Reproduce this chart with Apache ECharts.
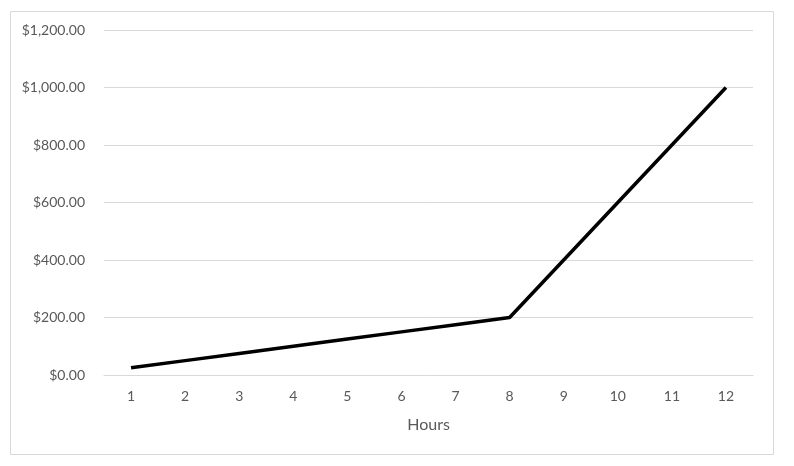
<!DOCTYPE html>
<html><head><meta charset="utf-8">
<script src="https://cdn.jsdelivr.net/npm/echarts@6/dist/echarts.min.js"></script>
<style>html,body{margin:0;padding:0;background:#fff}#c{width:794px;height:466px}</style>
</head><body><div id="c"></div>
<script>
const hours = ['1','2','3','4','5','6','7','8','9','10','11','12'];
const cost = [25,50,75,100,125,150,175,200,400,600,800,1000];
const xName = 'Hours';
const chart = echarts.init(document.getElementById('c'), null, {renderer:'canvas'});
const fmt = v => '$' + v.toLocaleString('en-US',{minimumFractionDigits:2,maximumFractionDigits:2});
chart.setOption({
  animation:false,
  backgroundColor:'#fff',
  graphic:[{type:'rect',shape:{x:10.5,y:11.5,width:763,height:443},style:{fill:'none',stroke:'#d9d9d9',lineWidth:1}}],
  grid:{left:104,right:41,top:30,bottom:91,containLabel:false},
  xAxis:{type:'category',data:hours,boundaryGap:true,
    name:xName,nameLocation:'middle',nameGap:42,
    nameTextStyle:{color:'#595959',fontSize:16,fontFamily:'Lato'},
    axisLine:{lineStyle:{color:'#d9d9d9'}},axisTick:{show:false},
    axisLabel:{color:'#595959',fontSize:14,fontFamily:'Lato',margin:14}},
  yAxis:{type:'value',min:0,max:1200,interval:200,
    axisLine:{show:false},axisTick:{show:false},
    splitLine:{lineStyle:{color:'#d9d9d9'}},
    axisLabel:{color:'#595959',fontSize:14,fontFamily:'Lato',margin:19,formatter:fmt}},
  series:[{type:'line',data:cost,showSymbol:false,lineStyle:{color:'#000',width:3.5},itemStyle:{color:'#000'}}]
});
</script></body></html>
